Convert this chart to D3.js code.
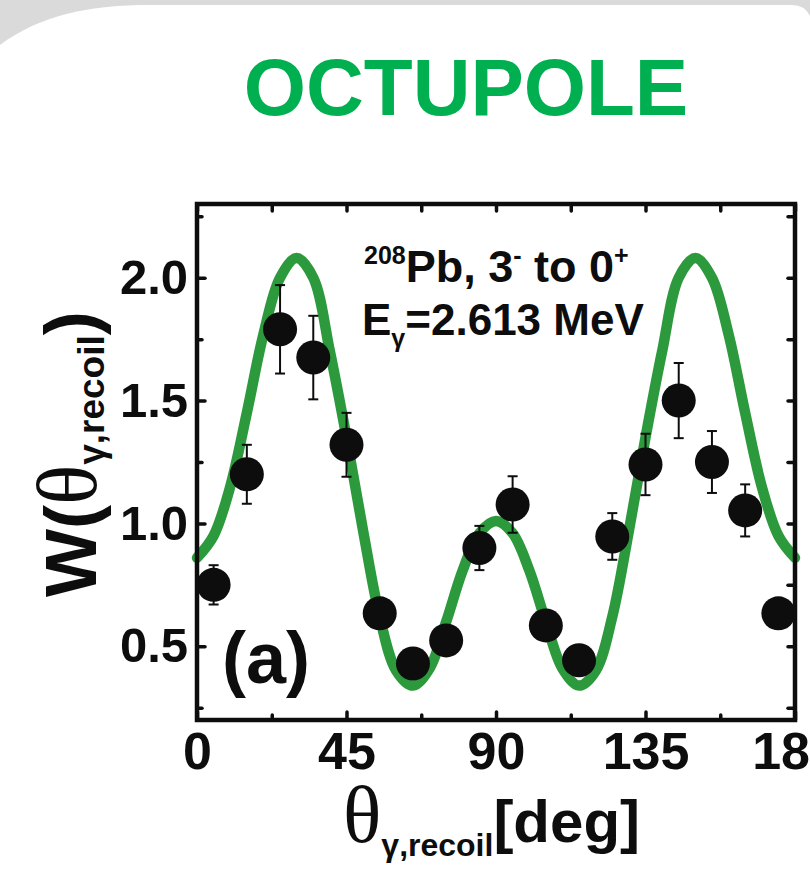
<!DOCTYPE html>
<html>
<head>
<meta charset="utf-8">
<script src="https://cdn.jsdelivr.net/npm/d3@7"></script>
<style>
  html, body { margin: 0; padding: 0; background: #fff; }
  svg { display: block; }
  text { font-family: "Liberation Sans", Arial, Helvetica, sans-serif; font-weight: bold; }
</style>
</head>
<body>
<svg id="chart" width="810" height="873"></svg>
<script>
// ---------- data ----------
const titleText = "OCTUPOLE";
const dataAngles = [5, 15, 25, 35, 45, 55, 65, 75, 85, 95, 105, 115, 125, 135, 145, 155, 165, 175];
const dataValues = [0.75, 1.20, 1.79, 1.675, 1.32, 0.634, 0.43, 0.524, 0.90, 1.077, 0.585, 0.443, 0.947, 1.24, 1.50, 1.25, 1.053, 0.634];
const dataErrors = [0.08, 0.12, 0.18, 0.17, 0.13, 0.04, 0.04, 0.04, 0.09, 0.115, 0.04, 0.04, 0.095, 0.125, 0.153, 0.126, 0.106, 0.04];
const fitAngles = [0, 5, 10, 15, 20, 25, 30, 35, 40, 45, 50, 55, 60, 65, 70, 75, 80, 85, 90,
                   95, 100, 105, 110, 115, 120, 125, 130, 135, 140, 145, 150, 155, 160, 165, 170, 175, 180];
const fitValues = [0.86, 0.95, 1.15, 1.45, 1.77, 2.00, 2.08, 2.00, 1.70, 1.35, 0.97, 0.62, 0.40, 0.34, 0.41, 0.60, 0.81, 0.96, 1.01,
                   0.96, 0.81, 0.60, 0.41, 0.34, 0.40, 0.62, 0.97, 1.35, 1.70, 2.00, 2.08, 2.00, 1.77, 1.45, 1.15, 0.95, 0.86];
const xMajorTicks = [0, 45, 90, 135, 180];
const xMinorTicks = [22.5, 67.5, 112.5, 157.5];
const yMajorTicks = [0.5, 1.0, 1.5, 2.0];
const yMinorTicks = [0.25, 0.75, 1.25, 1.75, 2.25];

// ---------- layout ----------
const svg = d3.select("#chart");
const L = 197, R = 795, T = 204, B = 720;
const ink = "#0d0d0d";
const x = d3.scaleLinear().domain([0, 180]).range([L, R]);
const y = d3.scaleLinear().domain([0.2, 2.3]).range([B, T]);

// background slide
svg.append("rect").attr("width", 810).attr("height", 873).attr("fill", "#dadada");
svg.append("path")
  .attr("d", "M0,45 C40,15 90,5 150,5 L792,5 Q808,5 812,22 L812,873 L0,873 Z")
  .attr("fill", "#ffffff");

// title
svg.append("text").attr("x", 466).attr("y", 115).attr("text-anchor", "middle")
  .attr("font-size", 80).attr("fill", "#00b050").text(titleText);

// fit curve
const line = d3.line().x((d, i) => x(fitAngles[i])).y(d => y(d)).curve(d3.curveCatmullRom.alpha(0.5));
svg.append("path").attr("d", line(fitValues)).attr("fill", "none")
  .attr("stroke", "#2c9a3c").attr("stroke-width", 10.5).attr("stroke-linecap", "round");

// error bars
const eg = svg.append("g").attr("stroke", ink).attr("stroke-width", 2);
dataAngles.forEach((a, i) => {
  const cx = x(a), y1 = y(dataValues[i] + dataErrors[i]), y2 = y(dataValues[i] - dataErrors[i]);
  eg.append("line").attr("x1", cx).attr("x2", cx).attr("y1", y1).attr("y2", y2);
  eg.append("line").attr("x1", cx - 5).attr("x2", cx + 5).attr("y1", y1).attr("y2", y1);
  eg.append("line").attr("x1", cx - 5).attr("x2", cx + 5).attr("y1", y2).attr("y2", y2);
});

// points
svg.append("g").selectAll("circle").data(dataValues).join("circle")
  .attr("cx", (d, i) => x(dataAngles[i])).attr("cy", d => y(d)).attr("r", 17).attr("fill", ink);

// axes
function styleAxis(g) {
  g.select(".domain").remove();
  g.selectAll(".tick line").attr("stroke", ink).attr("stroke-width", 3.5).attr("stroke-linecap", "round");
  g.selectAll(".tick text").attr("fill", ink)
   .style("font-family", "'Liberation Sans', Arial, sans-serif").style("font-weight", "bold");
}
svg.append("g").attr("transform", `translate(0,${B})`)
  .call(d3.axisBottom(x).tickValues(xMajorTicks).tickSize(-8).tickPadding(12).tickFormat(d3.format("d")))
  .call(styleAxis).call(g => g.selectAll("text").attr("font-size", 52));
svg.append("g").attr("transform", `translate(0,${B})`)
  .call(d3.axisBottom(x).tickValues(xMinorTicks).tickSize(-5).tickFormat(""))
  .call(styleAxis);
svg.append("g").attr("transform", `translate(0,${T})`)
  .call(d3.axisTop(x).tickValues(xMajorTicks.concat(xMinorTicks)).tickSize(-7).tickFormat(""))
  .call(styleAxis);
svg.append("g").attr("transform", `translate(${L},0)`)
  .call(d3.axisLeft(y).tickValues(yMajorTicks).tickSize(-8).tickPadding(9).tickFormat(d3.format(".1f")))
  .call(styleAxis).call(g => g.selectAll("text").attr("font-size", 49));
svg.append("g").attr("transform", `translate(${L},0)`)
  .call(d3.axisLeft(y).tickValues(yMinorTicks).tickSize(-5).tickFormat(""))
  .call(styleAxis);
svg.append("g").attr("transform", `translate(${R},0)`)
  .call(d3.axisRight(y).tickValues(yMajorTicks.concat(yMinorTicks)).tickSize(-7).tickFormat(""))
  .call(styleAxis);

// frame
svg.append("rect").attr("x", L).attr("y", T).attr("width", R - L).attr("height", B - T)
  .attr("fill", "none").attr("stroke", ink).attr("stroke-width", 4.5);

// annotation
const a1 = svg.append("text").attr("x", 364).attr("y", 282).attr("fill", ink);
a1.append("tspan").attr("font-size", 25).attr("dy", -18).text("208");
a1.append("tspan").attr("font-size", 45).attr("dy", 18).text("Pb, 3");
a1.append("tspan").attr("font-size", 25).attr("dy", -18).text("-");
a1.append("tspan").attr("font-size", 45).attr("dy", 18).text(" to 0");
a1.append("tspan").attr("font-size", 25).attr("dy", -18).text("+");
const a2 = svg.append("text").attr("x", 362).attr("y", 335).attr("fill", ink);
a2.append("tspan").attr("font-size", 44).text("E");
a2.append("tspan").attr("font-size", 25).attr("dy", 12).text("γ");
a2.append("tspan").attr("font-size", 44).attr("dy", -12).text("=2.613 MeV");

// panel label
svg.append("text").attr("x", 222).attr("y", 683).attr("font-size", 72).attr("fill", ink).text("(a)");

// x label
const xl = svg.append("text").attr("x", 343).attr("y", 842).attr("fill", ink);
xl.append("tspan").attr("font-size", 80).style("font-family", "'Liberation Serif', 'Times New Roman', serif").style("font-weight", "normal").text("θ");
xl.append("tspan").attr("font-size", 32).attr("dy", 14).text("γ,recoil");
xl.append("tspan").attr("font-size", 60).attr("dy", -14).text("[deg]");

// y label
const yl = svg.append("text").attr("transform", "translate(96,597) rotate(-90)").attr("fill", ink);
yl.append("tspan").attr("font-size", 72).text("W(");
yl.append("tspan").attr("font-size", 84).style("font-family", "'Liberation Serif', 'Times New Roman', serif").style("font-weight", "normal").text("θ");
yl.append("tspan").attr("font-size", 37).attr("dy", 8).text("γ,recoil");
yl.append("tspan").attr("font-size", 72).attr("dy", -8).text(")");
</script>
</body>
</html>
